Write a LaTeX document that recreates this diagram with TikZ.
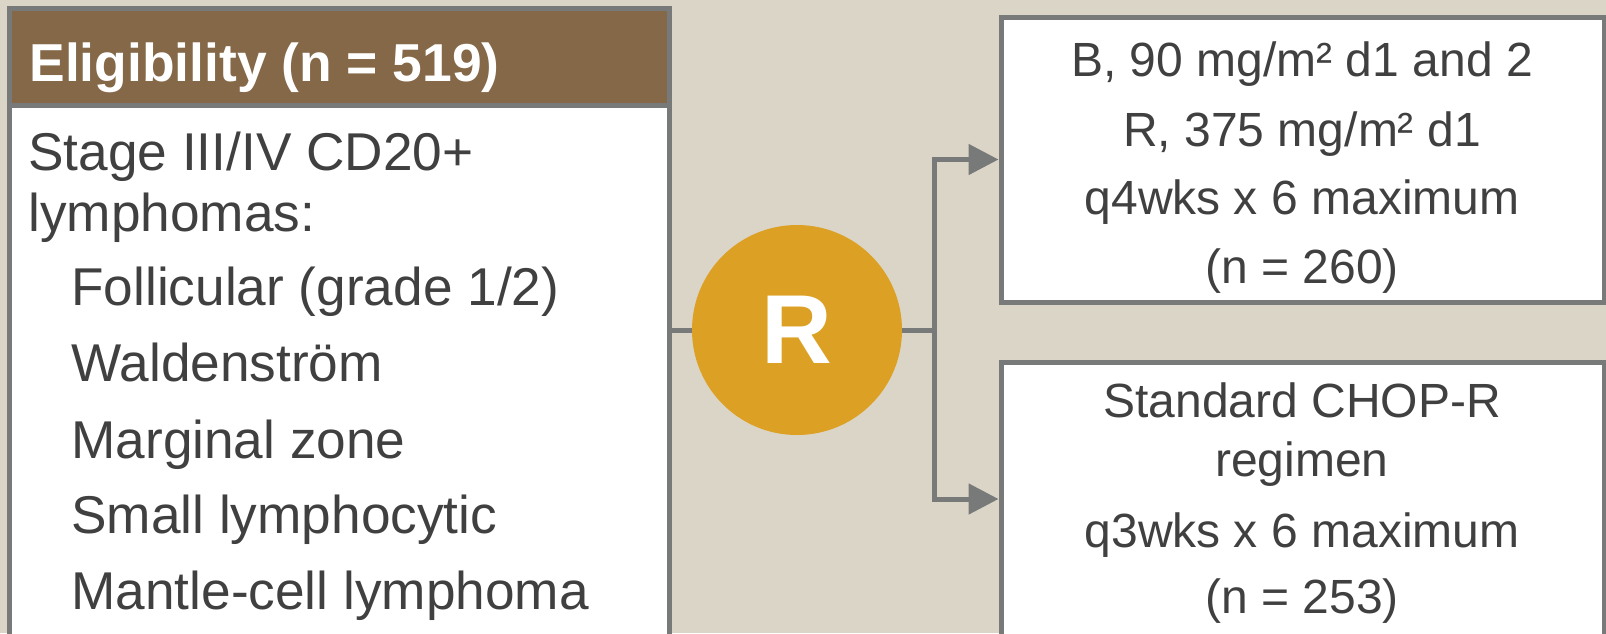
\documentclass[tikz,border=0pt]{standalone}
\usepackage{fontspec}
\setmainfont{Liberation Sans}
\usetikzlibrary{arrows.meta}

\definecolor{bgbeige}{HTML}{DBD5C7}
\definecolor{hdrbrown}{HTML}{856848}
\definecolor{randorange}{HTML}{DCA124}
\definecolor{linegray}{HTML}{787A79}
\definecolor{txtgray}{HTML}{404040}

\tikzset{
  panel/.style={draw=linegray, line width=2.5pt, fill=white, inner sep=0pt},
  conn/.style={linegray, line width=2.5pt},
  arr/.style={conn, -{Triangle[length=15pt,width=15pt]}},
  bodytxt/.style={text=txtgray, font=\fontsize{26.6pt}{31pt}\selectfont, anchor=base west, inner sep=0pt},
  armtxt/.style={text=txtgray, font=\fontsize{24pt}{29pt}\selectfont, anchor=base, inner sep=0pt}
}

\begin{document}
\begin{tikzpicture}[x=0.5pt,y=-0.5pt]
    \useasboundingbox (0,0) rectangle (1606,633);
    \clip (0,0) rectangle (1606,633);
    \fill[bgbeige] (0,0) rectangle (1606,633);

    %eligibility panel
    \node[panel, minimum width=330pt, minimum height=346pt] (elig) at (339,354) {};
    \node[panel, fill=hdrbrown, minimum width=330pt, minimum height=48.5pt] (hdr) at (339,56.5) {};
    \node[anchor=base west, inner sep=0pt, text=white, font=\fontsize{26.7pt}{31pt}\selectfont\bfseries] (hdrtxt) at (29,81) {Eligibility (n = 519)};
    \node[bodytxt] (stage) at (28,170) {Stage III/IV CD20+};
    \node[bodytxt] (lymph) at (28,231) {lymphomas:};
    \node[bodytxt] (foll) at (71,305) {Follicular (grade 1/2)};
    \node[bodytxt] (wald) at (71,381) {Waldenström};
    \node[bodytxt] (marg) at (71,458) {Marginal zone};
    \node[bodytxt] (small) at (71,533) {Small lymphocytic};
    \node[bodytxt] (mantle) at (71,609) {Mantle-cell lymphoma};

    %randomisation
    \node[circle, fill=randorange, minimum size=105pt, inner sep=0pt, text=white, font=\fontsize{49pt}{49pt}\selectfont\bfseries] (rand) at (797,330) {R};
    \coordinate (split) at (934,330);

    %arms
    \node[panel, minimum width=301.5pt, minimum height=142.5pt] (armB) at (1302.5,159.5) {};
    \node[panel, minimum width=301.5pt, minimum height=137pt] (armC) at (1302.5,499) {};
    \node[armtxt] (b1) at (1302,76) {B, 90 mg/m² d1 and 2};
    \node[armtxt] (b2) at (1302,146) {R, 375 mg/m² d1};
    \node[armtxt] (b3) at (1302,214) {q4wks x 6 maximum};
    \node[armtxt] (b4) at (1302,283) {(n = 260)};
    \node[armtxt] (c1) at (1302,417) {Standard CHOP-R};
    \node[armtxt] (c2) at (1302,476) {regimen};
    \node[armtxt] (c3) at (1302,547) {q3wks x 6 maximum};
    \node[armtxt] (c4) at (1302,613) {(n = 253)};

    %connectors
    \draw[conn] (rand.west -| elig.east) -- (rand.west);
    \draw[conn] (rand.east) -- (split);
    \draw[arr] (split) |- (armB.west);
    \draw[arr] (split) |- (armC.west);
\end{tikzpicture}
\end{document}
